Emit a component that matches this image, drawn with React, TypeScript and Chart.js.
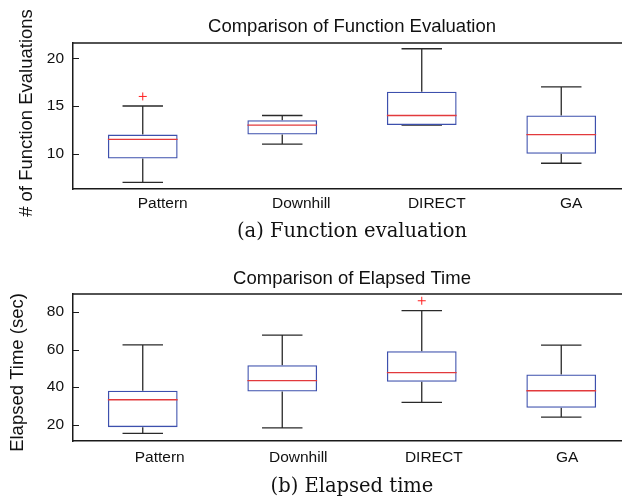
import React, { useEffect, useRef } from "react";
import { Chart, registerables } from "chart.js";
Chart.register(...registerables);

const categories = ["Pattern", "Downhill", "DIRECT", "GA"];

// (a) Function evaluation
const fevMin = [7, 11, 13, 9];
const fevQ1 = [9.5, 12, 13, 10];
const fevMedian = [11.5, 13, 14, 12];
const fevQ3 = [12, 13.5, 16.5, 14];
const fevMax = [15, 14, 21, 17];
const fevOutliers = [16, null, null, null];
const fevTicks = [10, 15, 20];

// (b) Elapsed time
const timeMin = [15.3, 18.2, 31.8, 23.9];
const timeQ1 = [18.6, 37.6, 42.8, 28.9];
const timeMedian = [33.2, 43.4, 47.7, 38];
const timeQ3 = [38, 51.6, 59.1, 46.7];
const timeMax = [62.5, 67.7, 80.7, 62.3];
const timeOutliers = [null, null, 86, null];
const timeTicks = [20, 40, 60, 80];

const SANS = "'Liberation Sans', Arial, Helvetica, sans-serif";
const SERIF = "'DejaVu Serif', serif";
const BOX = "#3d50ad";
const MED = "#e23a3c";
const WHISK = "#2a2a2a";
const AXIS = "#1a1a1a";

type Cfg = {
  title: string;
  ylabel: string;
  caption: string;
  min: number[];
  q1: number[];
  med: number[];
  q3: number[];
  max: number[];
  out: (number | null)[];
  ticks: number[];
  ymin: number;
  ymax: number;
  padTop: number;
  padBottom: number;
  titleY: number;
  ylabelX: number;
  ylabelY: number;
  captionY: number;
  labelBaseline: number;
  labelShift: number[];
};

function makeChart(canvas: HTMLCanvasElement, c: Cfg) {
  const boxPlugin = {
    id: "boxparts",
    beforeDatasetsDraw(chart: any) {
      const { ctx } = chart;
      const xs = chart.scales.x;
      const ys = chart.scales.y;
      const meta = chart.getDatasetMeta(0);
      ctx.save();
      ctx.strokeStyle = WHISK;
      ctx.lineWidth = 1.3;
      categories.forEach((_, i) => {
        const x = xs.getPixelForValue(i);
        const bw = meta.data[i] ? meta.data[i].width : 70;
        const cap = bw * 0.29;
        const yMax = ys.getPixelForValue(c.max[i]);
        const yQ3 = ys.getPixelForValue(c.q3[i]);
        const yQ1 = ys.getPixelForValue(c.q1[i]);
        const yMin = ys.getPixelForValue(c.min[i]);
        ctx.beginPath();
        ctx.moveTo(x, yQ3);
        ctx.lineTo(x, yMax);
        ctx.moveTo(x - cap, yMax);
        ctx.lineTo(x + cap, yMax);
        ctx.moveTo(x, yQ1);
        ctx.lineTo(x, yMin);
        ctx.moveTo(x - cap, yMin);
        ctx.lineTo(x + cap, yMin);
        ctx.stroke();
      });
      ctx.restore();
    },
    afterDatasetsDraw(chart: any) {
      const { ctx } = chart;
      const xs = chart.scales.x;
      const ys = chart.scales.y;
      const meta = chart.getDatasetMeta(0);
      ctx.save();
      ctx.strokeStyle = MED;
      ctx.lineWidth = 1.3;
      categories.forEach((_, i) => {
        const x = xs.getPixelForValue(i);
        const bw = meta.data[i] ? meta.data[i].width : 70;
        const y = ys.getPixelForValue(c.med[i]);
        ctx.beginPath();
        ctx.moveTo(x - bw / 2, y);
        ctx.lineTo(x + bw / 2, y);
        ctx.stroke();
      });
      ctx.restore();
    },
    afterDraw(chart: any) {
      const { ctx, chartArea } = chart;
      const xs = chart.scales.x;
      const ys = chart.scales.y;
      ctx.save();
      ctx.strokeStyle = AXIS;
      ctx.lineWidth = 1.5;
      ctx.beginPath();
      ctx.moveTo(chartArea.left, chartArea.top);
      ctx.lineTo(chart.width, chartArea.top);
      ctx.stroke();
      ctx.lineWidth = 1;
      ctx.beginPath();
      c.ticks.forEach((t) => {
        const y = Math.round(ys.getPixelForValue(t)) + 0.5;
        ctx.moveTo(chartArea.left, y);
        ctx.lineTo(chartArea.left + 6, y);
      });
      ctx.stroke();
      ctx.fillStyle = "#111";
      // category labels
      ctx.textAlign = "center";
      ctx.textBaseline = "alphabetic";
      ctx.font = `15.5px ${SANS}`;
      categories.forEach((lab, i) => {
        ctx.fillText(lab, xs.getPixelForValue(i) + c.labelShift[i], chartArea.bottom + c.labelBaseline);
      });
      const cx = (chartArea.left + chartArea.right) / 2;
      ctx.textBaseline = "middle";
      ctx.font = `18.5px ${SANS}`;
      ctx.fillText(c.title, cx, c.titleY);
      ctx.font = `19.5px ${SERIF}`;
      ctx.fillText(c.caption, cx, c.captionY);
      ctx.save();
      ctx.translate(c.ylabelX, c.ylabelY);
      ctx.rotate(-Math.PI / 2);
      ctx.font = `18.5px ${SANS}`;
      ctx.fillText(c.ylabel, 0, 0);
      ctx.restore();
      ctx.restore();
    },
  };

  return new Chart(canvas, {
    type: "bar",
    data: {
      labels: categories,
      datasets: [
        {
          type: "bar",
          data: categories.map((_, i) => [c.q1[i], c.q3[i]]) as any,
          backgroundColor: "rgba(255,255,255,0)",
          borderColor: BOX,
          borderWidth: 1.3,
          borderSkipped: false,
          barPercentage: 0.5,
          categoryPercentage: 1,
        },
        {
          type: "line",
          data: c.out as any,
          showLine: false,
          pointStyle: "cross",
          pointRadius: 4,
          pointBorderColor: "#ff2020",
          pointBorderWidth: 1,
          borderColor: "#ff2020",
        },
      ],
    },
    options: {
      responsive: false,
      animation: false,
      devicePixelRatio: 1,
      layout: { padding: { left: 43, right: 9, top: c.padTop, bottom: c.padBottom } },
      plugins: { legend: { display: false }, tooltip: { enabled: false }, title: { display: false } },
      scales: {
        x: {
          type: "category",
          offset: true,
          grid: { display: false, drawTicks: false },
          border: { display: true, color: AXIS, width: 1.5 },
          ticks: { display: false },
          afterFit(scale: any) {
            scale.height = 30;
          },
        },
        y: {
          type: "linear",
          min: c.ymin,
          max: c.ymax,
          grid: { display: false, drawTicks: false },
          border: { display: true, color: AXIS, width: 1.5 },
          ticks: {
            color: "#111",
            font: { family: SANS, size: 15.5 },
            padding: 9,
          },
          afterBuildTicks(scale: any) {
            scale.ticks = c.ticks.map((v) => ({ value: v }));
          },
          afterFit(scale: any) {
            scale.width = 30;
          },
        },
      },
    },
    plugins: [boxPlugin],
  } as any);
}

export default function App() {
  const ref1 = useRef<HTMLCanvasElement>(null);
  const ref2 = useRef<HTMLCanvasElement>(null);

  useEffect(() => {
    const c1 = makeChart(ref1.current!, {
      title: "Comparison of Function Evaluation",
      ylabel: "# of Function Evaluations",
      caption: "(a) Function evaluation",
      min: fevMin,
      q1: fevQ1,
      med: fevMedian,
      q3: fevQ3,
      max: fevMax,
      out: fevOutliers,
      ticks: fevTicks,
      ymin: 6.3,
      ymax: 21.6,
      padTop: 43,
      padBottom: 31,
      titleY: 27,
      ylabelX: 26.8,
      ylabelY: 113,
      captionY: 232,
      labelBaseline: 19,
      labelShift: [20, 19, 15, 10],
    });
    const c2 = makeChart(ref2.current!, {
      title: "Comparison of Elapsed Time",
      ylabel: "Elapsed Time (sec)",
      caption: "(b) Elapsed time",
      min: timeMin,
      q1: timeQ1,
      med: timeMedian,
      q3: timeQ3,
      max: timeMax,
      out: timeOutliers,
      ticks: timeTicks,
      ymin: 11.2,
      ymax: 89.6,
      padTop: 44,
      padBottom: 32,
      titleY: 28.5,
      ylabelX: 18,
      ylabelY: 122.5,
      captionY: 237,
      labelBaseline: 21.3,
      labelShift: [17, 16, 12, 6],
    });
    return () => {
      c1.destroy();
      c2.destroy();
    };
  }, []);

  return (
    <div
      style={{
        position: "fixed",
        left: 0,
        top: 0,
        width: 622,
        height: 503,
        overflow: "hidden",
        background: "#fff",
      }}
    >
      <canvas ref={ref1} width={640} height={250} style={{ position: "absolute", left: 0, top: 0, width: 640, height: 250 }} />
      <canvas ref={ref2} width={640} height={253} style={{ position: "absolute", left: 0, top: 250, width: 640, height: 253 }} />
    </div>
  );
}
